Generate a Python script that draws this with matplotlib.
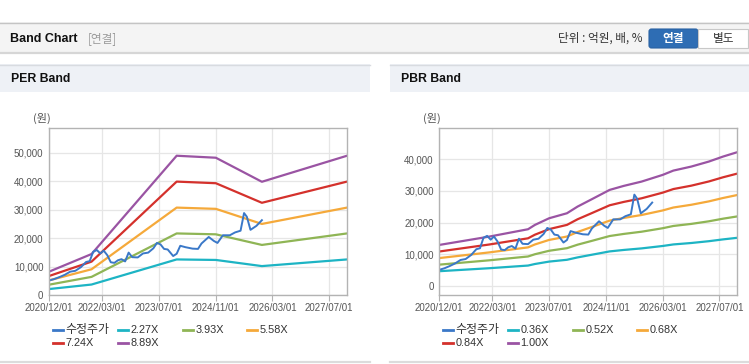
import matplotlib
matplotlib.use("Agg")
import matplotlib.pyplot as plt
from matplotlib.patches import Rectangle, FancyBboxPatch
from matplotlib.lines import Line2D
from matplotlib.ticker import FuncFormatter
import pandas as pd

plt.rcParams['font.family'] = ['Liberation Sans', 'Noto Sans CJK KR', 'DejaVu Sans']

# ---------------- data ----------------
price_dates = ['2020-12-01', '2021-01-15', '2021-03-01', '2021-04-15', '2021-06-01', '2021-07-15',
               '2021-09-01', '2021-10-15', '2021-11-15', '2021-12-15', '2022-01-15', '2022-02-15',
               '2022-03-15', '2022-04-15', '2022-05-15', '2022-06-15', '2022-07-15', '2022-08-15',
               '2022-09-15', '2022-10-15', '2022-11-15', '2023-01-01', '2023-02-15', '2023-04-01',
               '2023-05-15', '2023-06-15', '2023-07-15', '2023-08-15', '2023-09-15', '2023-11-01',
               '2023-12-01', '2024-01-01', '2024-02-15', '2024-04-15', '2024-06-01', '2024-07-01',
               '2024-09-01', '2024-10-15', '2024-11-15', '2025-01-01', '2025-03-01', '2025-04-15',
               '2025-06-01', '2025-07-01', '2025-07-25', '2025-08-25', '2025-10-15', '2025-12-01']
price = [5100, 5600, 6300, 7100, 8200, 8500,
         9800, 11600, 11900, 15200, 15800, 14600,
         15600, 14000, 11500, 11300, 12200, 12600,
         11800, 14900, 13300, 13200, 14600, 14900,
         16400, 18300, 17800, 16200, 16000, 13700,
         14500, 17300, 16800, 16300, 16200, 18100,
         20400, 19000, 18300, 21000, 21000, 22000,
         22600, 28800, 27500, 22900, 24300, 26300]

per_dates = ['2020-12-01', '2021-12-01', '2023-12-01', '2024-11-01', '2025-12-01', '2027-12-01']
per_labels = ['2.27X', '3.93X', '5.58X', '7.24X', '8.89X']
per_227 = [2090, 3680, 12500, 12320, 10160, 12500]
per_393 = [3620, 6370, 21640, 21330, 17600, 21640]
per_558 = [5140, 9040, 30720, 30280, 24980, 30720]
per_724 = [6670, 11730, 39860, 39290, 32410, 39860]
per_889 = [8190, 14400, 48950, 48250, 39800, 48950]

pbr_dates = ['2020-12-01', '2022-02-01', '2023-01-01', '2023-03-01', '2023-07-01', '2023-12-01',
             '2024-03-01', '2024-07-01', '2024-12-01', '2025-04-01', '2025-09-01', '2026-03-01',
             '2026-06-01', '2026-11-01', '2027-04-01', '2027-08-01', '2027-12-01']
pbr_labels = ['0.36X', '0.52X', '0.68X', '0.84X', '1.00X']
pbr_036 = [4660, 5600, 6440, 6930, 7690, 8260, 9010, 9850, 10900, 11360, 11850, 12610, 13100, 13550, 14120, 14690, 15190]
pbr_052 = [6730, 8090, 9300, 10010, 11100, 11920, 13020, 14220, 15750, 16410, 17110, 18210, 18920, 19570, 20390, 21220, 21930]
pbr_068 = [8800, 10580, 12170, 13090, 14520, 15590, 17020, 18600, 20600, 21450, 22380, 23810, 24740, 25600, 26670, 27740, 28680]
pbr_084 = [10870, 13070, 15030, 16170, 17930, 19260, 21030, 22970, 25440, 26500, 27640, 29420, 30560, 31620, 32950, 34270, 35430]
pbr_100 = [12940, 15560, 17890, 19250, 21350, 22930, 25030, 27350, 30290, 31550, 32910, 35020, 36380, 37640, 39220, 40800, 42180]

x_ticks = ['2020-12-01', '2022-03-01', '2023-07-01', '2024-11-01', '2026-03-01', '2027-07-01']
x_tick_labels = ['2020/12/01', '2022/03/01', '2023/07/01', '2024/11/01', '2026/03/01', '2027/07/01']
x_range = ['2020-12-01', '2027-12-01']
per_yticks = [0, 10000, 20000, 30000, 40000, 50000]
pbr_yticks = [0, 10000, 20000, 30000, 40000]

price_label = '수정주가'
colors = ['#3a78c8', '#1db4c4', '#8fb555', '#f5a93a', '#d4312c', '#9a54a3']

# ---------------- figure ----------------
W, H = 749, 364
fig = plt.figure(figsize=(W / 100, H / 100), dpi=100)
fig.patch.set_facecolor('white')

bg = fig.add_axes([0, 0, 1, 1])
bg.set_xlim(0, W)
bg.set_ylim(H, 0)
bg.axis('off')

# top bar
bg.add_patch(Rectangle((0, 22), W, 31, facecolor='#f4f4f4', edgecolor='none'))
bg.plot([0, W], [22.5, 22.5], color='#c4c4c4', lw=1.0)
bg.plot([0, W], [53, 53], color='#d6d6d6', lw=1.6)
bg.text(10, 38.5, 'Band Chart', fontsize=9.0, fontweight='bold', color='#111111', va='center', ha='left')
bg.text(88, 38.5, '[연결]', fontsize=8.4, color='#9a9a9a', va='center', ha='left',
        family=['Noto Sans CJK KR'])
bg.text(642, 38.5, '단위 : 억원, 배, %', fontsize=8.4, color='#333333', va='center', ha='right',
        family=['Noto Sans CJK KR'])
bg.add_patch(FancyBboxPatch((649, 29), 49, 19, boxstyle='round,pad=0,rounding_size=2.5',
                            facecolor='#2e6db4', edgecolor='#2a62a3', lw=0.8))
bg.add_patch(Rectangle((698, 29), 50, 19, facecolor='white', edgecolor='#c8c8c8', lw=0.8))
bg.text(673.5, 38.5, '연결', fontsize=8.4, fontweight='bold', color='white', va='center', ha='center',
        family=['Noto Sans CJK KR'])
bg.text(724, 38.5, '별도', fontsize=8.4, color='#333333', va='center', ha='center',
        family=['Noto Sans CJK KR'])

# panels
for x0, x1, title in [(0, 370, 'PER Band'), (390, W, 'PBR Band')]:
    bg.add_patch(Rectangle((x0, 64), x1 - x0, 28, facecolor='#eef1f6', edgecolor='none'))
    bg.plot([x0, x1], [64.5, 64.5], color='#d8dbe0', lw=1.0)
    bg.plot([x0, x1], [361.5, 361.5], color='#dcdcdc', lw=1.6)
    bg.text(x0 + 11, 79, title, fontsize=8.8, fontweight='bold', color='#111111', va='center', ha='left')
    bg.text(x0 + 33, 118.5, '(원)', fontsize=8.0, color='#555555', va='center', ha='left',
            family=['Noto Sans CJK KR'])


def to_fig(x, y):
    return x / W, 1 - y / H


def make_axes(x_left, x_right, y_top, y_bottom):
    l, t = to_fig(x_left, y_top)
    r, b = to_fig(x_right, y_bottom)
    return fig.add_axes([l, b, r - l, t - b])


fmt = FuncFormatter(lambda v, p: f'{int(v):,}')
xt = pd.to_datetime(x_ticks)
xr = pd.to_datetime(x_range)


def style(ax, yticks, ylim):
    ax.set_facecolor('white')
    ax.set_xlim(xr[0], xr[1])
    ax.set_ylim(*ylim)
    ax.set_xticks(xt)
    ax.set_xticklabels(x_tick_labels)
    ax.set_yticks(yticks)
    ax.yaxis.set_major_formatter(fmt)
    ax.grid(True, color='#e6e6e6', lw=0.9)
    ax.set_axisbelow(True)
    for s in ax.spines.values():
        s.set_color('#b3b3b3')
        s.set_linewidth(1.0)
    ax.tick_params(axis='x', length=4, color='#b3b3b3', labelsize=7.0, labelcolor='#555555', pad=2)
    ax.tick_params(axis='y', length=0, labelsize=7.0, labelcolor='#555555', pad=4)


def draw_legend(x0, labels):
    items = [price_label] + labels
    pos = [(53, 330), (118, 330), (183, 330), (247, 330), (53, 343), (118, 343)]
    for (px, py), lab, c in zip(pos, items, colors):
        bg.add_line(Line2D([x0 + px, x0 + px + 10], [py, py], color=c, lw=2.0))
        size = 8.6 if lab == price_label else 7.8
        bg.text(x0 + px + 12.5, py, lab, fontsize=size, color='#333333', va='center', ha='left')


# PER
ax1 = make_axes(49, 347, 128, 295)
style(ax1, per_yticks, (0, 58700))
pd_per = pd.to_datetime(per_dates)
for vals, c in zip([per_227, per_393, per_558, per_724, per_889], colors[1:]):
    ax1.plot(pd_per, vals, color=c, lw=1.6, solid_joinstyle='round')
ax1.plot(pd.to_datetime(price_dates), price, color=colors[0], lw=1.4, solid_joinstyle='round')
draw_legend(0, per_labels)

# PBR
ax2 = make_axes(439.3, 737.3, 128, 295)
style(ax2, pbr_yticks, (-2840, 49800))
pd_pbr = pd.to_datetime(pbr_dates)
for vals, c in zip([pbr_036, pbr_052, pbr_068, pbr_084, pbr_100], colors[1:]):
    ax2.plot(pd_pbr, vals, color=c, lw=1.6, solid_joinstyle='round')
ax2.plot(pd.to_datetime(price_dates), price, color=colors[0], lw=1.4, solid_joinstyle='round')
draw_legend(390, pbr_labels)

fig.savefig('out.png', dpi=100, facecolor='white')
